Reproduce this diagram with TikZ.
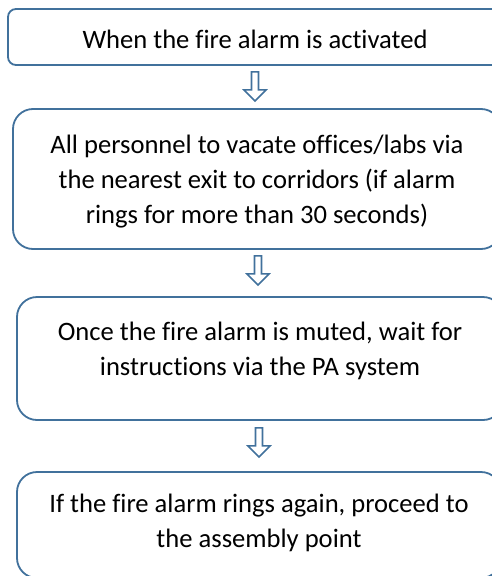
\documentclass[tikz,border=0pt]{standalone}
\usepackage{fontspec}
\setmainfont[Ligatures=NoCommon]{Carlito}
\usetikzlibrary{calc}
\definecolor{flowblue}{RGB}{65,113,156}
% fixed height for the first line of each step text
\newcommand\firstrowstrut{\rule{0pt}{20pt}}
\begin{document}
\begin{tikzpicture}[x=1pt,y=-1pt,
  stepbox/.style={draw=flowblue, line width=1.8pt, rounded corners=#1, inner sep=0pt, fill=white},
  steptext/.style={anchor=north, inner sep=0pt, align=center,
    font=\fontsize{26.6}{35}\selectfont, text=black},
  pics/downarrow/.style={code={
    \draw[flowblue, line width=1.6pt, fill=white, line join=miter]
      (-3.5,0) -- (3.5,0) -- (3.5,18) -- (11,18) -- (0,29) -- (-11,18) -- (-3.5,18) -- cycle;}}]
\useasboundingbox (0,0) rectangle (492,576);
\clip (0,0) rectangle (492,576);

% step boxes (they run past the right edge)
\node[stepbox=8pt,  minimum width=494pt, minimum height=56pt]  (b1) at (255,37) {};
\node[stepbox=20pt, minimum width=488pt, minimum height=140pt] (b2) at (257,179) {};
\node[stepbox=20pt, minimum width=486pt, minimum height=123pt] (b3) at (260,358.5) {};
\node[stepbox=20pt, minimum width=484pt, minimum height=106pt] (b4) at (259,525) {};

% step texts
\node[steptext] (t1) at (255,28) {\firstrowstrut When the fire alarm is activated};
\node[steptext] (t2) at (257,133) {\firstrowstrut All personnel to vacate offices/labs via\\
  the nearest exit to corridors (if alarm\\ rings for more than 30 seconds)};
\node[steptext] (t3) at (260,320) {\firstrowstrut Once the fire alarm is muted, wait for\\
  instructions via the PA system};
\node[steptext] (t4) at (259,492) {\firstrowstrut If the fire alarm rings again, proceed to\\
  the assembly point};

% hollow arrows between the steps
\pic at ($(b1.south)+(0,6)$) {downarrow};
\pic at ($(b2.south)+(1,6)$) {downarrow};
\pic at ($(b3.south)+(-1,7)$) {downarrow};
\end{tikzpicture}
\end{document}
